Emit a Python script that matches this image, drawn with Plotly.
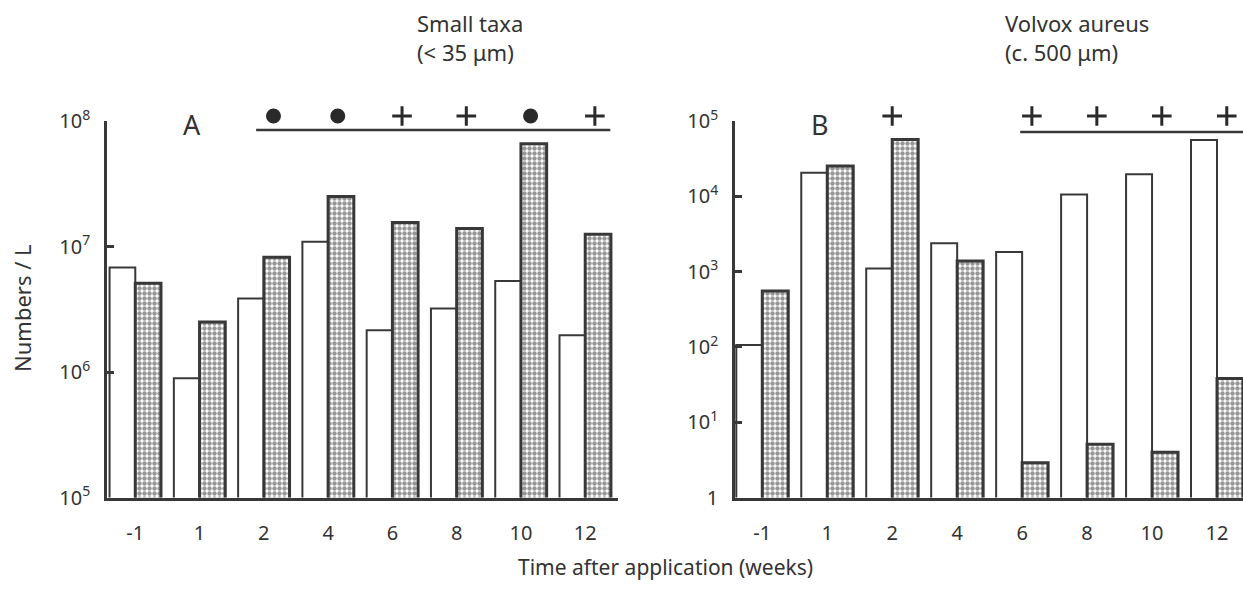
import plotly.graph_objects as go

# ---------------- data ----------------
weeks = ["-1", "1", "2", "4", "6", "8", "10", "12"]
small_open = [6.8e6, 8.9e5, 3.85e6, 1.09e7, 2.15e6, 3.2e6, 5.3e6, 1.96e6]
small_stippled = [5.1e6, 2.5e6, 8.2e6, 2.5e7, 1.55e7, 1.39e7, 6.6e7, 1.25e7]
volvox_open = [106, 2.06e4, 1.1e3, 2.38e3, 1.82e3, 1.06e4, 1.96e4, 5.6e4]
volvox_stippled = [552, 2.52e4, 5.7e4, 1.38e3, 2.9, 5.1, 4.0, 38]
sig_small = ["", "", "●", "●", "+", "+", "●", "+"]
sig_volvox = ["", "", "+", "", "+", "+", "+", "+"]
ytick_small_vals = [1e5, 1e6, 1e7, 1e8]
ytick_small_text = ["10<sup>5</sup>", "10<sup>6</sup>", "10<sup>7</sup>", "10<sup>8</sup>"]
ytick_volvox_vals = [1, 1e1, 1e2, 1e3, 1e4, 1e5]
ytick_volvox_text = ["1", "10<sup>1</sup>", "10<sup>2</sup>", "10<sup>3</sup>", "10<sup>4</sup>", "10<sup>5</sup>"]

# ---------------- style ----------------
W, H = 1243, 589
INK = "#383838"
TXT = "#333333"
FONT = "Noto Sans"
idx = list(range(len(weeks)))


def px_x(p):
    return p / W


def px_y(p):
    return 1 - p / H


domA = [px_x(107), px_x(618)]
domB = [px_x(735), 1.0]
domY = [px_y(497.5), px_y(121)]
rangeA = [-0.44, 7.51]
rangeB = [-0.42, 7.4]

fig = go.Figure()

open_marker = dict(color="white", line=dict(color=INK, width=2))
stip_marker = dict(color="white", line=dict(color=INK, width=3),
                   pattern=dict(shape=".", fgcolor="#2e2e2e", bgcolor="white",
                                size=5, solidity=0.62))

fig.add_trace(go.Bar(x=idx, y=small_open, xaxis="x", yaxis="y",
                     offsetgroup="a", marker=open_marker, showlegend=False))
fig.add_trace(go.Bar(x=idx, y=small_stippled, xaxis="x", yaxis="y",
                     offsetgroup="b", marker=stip_marker, showlegend=False))
fig.add_trace(go.Bar(x=idx, y=volvox_open, xaxis="x2", yaxis="y2",
                     offsetgroup="a", marker=open_marker, showlegend=False))
fig.add_trace(go.Bar(x=idx, y=volvox_stippled, xaxis="x2", yaxis="y2",
                     offsetgroup="b", marker=stip_marker, showlegend=False))

# significance symbols (on overlay axes spanning the full paper height)
sym_map = {"●": "circle", "+": "cross-thin"}
mark_y = px_y(116)
for sig, xa, ya in [(sig_small, "x3", "y3"), (sig_volvox, "x4", "y4")]:
    xs, syms = [], []
    for i, s in enumerate(sig):
        if s:
            xs.append(i + (0.0 if (xa == "x4" and i == 2) else 0.15))
            syms.append(sym_map[s])
    sizes = [12 if s == "circle" else 14 for s in syms]
    fig.add_trace(go.Scatter(
        x=xs, y=[mark_y] * len(xs), xaxis=xa, yaxis=ya, mode="markers",
        cliponaxis=False, showlegend=False, hoverinfo="skip",
        marker=dict(symbol=syms, size=sizes, color="#2a2a2a", opacity=1,
                    line=dict(color="#2a2a2a", width=3))))

axis_common = dict(showline=True, linecolor=INK, linewidth=2.5, showgrid=False,
                   zeroline=False, automargin=False)

xcommon = dict(axis_common, tickmode="array", tickvals=idx, ticktext=weeks,
               ticks="", ticklabelstandoff=16,
               tickfont=dict(family=FONT, size=20, color=TXT))
ycommon = dict(axis_common, type="log", ticks="inside", ticklen=7, tickwidth=2.5,
               tickcolor=INK, ticklabelstandoff=10,
               tickfont=dict(family=FONT, size=20, color=TXT))
hidden = dict(visible=False, automargin=False, showgrid=False, zeroline=False)

fig.update_layout(
    width=W, height=H, margin=dict(l=0, r=0, t=0, b=0, pad=0),
    paper_bgcolor="white", plot_bgcolor="rgba(0,0,0,0)",
    barmode="group", bargap=0.2, bargroupgap=0,
    font=dict(family=FONT, color=TXT),
    xaxis=dict(xcommon, domain=domA, range=rangeA, anchor="y"),
    yaxis=dict(ycommon, domain=domY, range=[5, 8], anchor="x",
               tickvals=ytick_small_vals, ticktext=ytick_small_text),
    xaxis2=dict(xcommon, domain=domB, range=rangeB, anchor="y2"),
    yaxis2=dict(ycommon, domain=domY, range=[0, 5], anchor="x2",
                tickvals=ytick_volvox_vals, ticktext=ytick_volvox_text),
    xaxis3=dict(hidden, domain=domA, range=rangeA, anchor="y3"),
    yaxis3=dict(hidden, domain=[0, 1], range=[0, 1], anchor="x3"),
    xaxis4=dict(hidden, domain=domB, range=rangeB, anchor="y4"),
    yaxis4=dict(hidden, domain=[0, 1], range=[0, 1], anchor="x4"),
)

# treatment period lines
fig.add_shape(type="line", xref="x", yref="paper", x0=1.88, x1=7.39,
              y0=px_y(130), y1=px_y(130), line=dict(color=INK, width=2.5))
fig.add_shape(type="line", xref="x2", yref="paper", x0=3.97, x1=7.4,
              y0=px_y(132), y1=px_y(132), line=dict(color=INK, width=2.5))

ann = [
    dict(text="Small taxa<br>(&lt; 35 μm)", x=px_x(415), y=px_y(6), xanchor="left",
         yanchor="top", align="left", font=dict(size=22)),
    dict(text="Volvox aureus<br>(c. 500 μm)", x=px_x(1003), y=px_y(6), xanchor="left",
         yanchor="top", align="left", font=dict(size=22)),
    dict(text="A", x=px_x(192), y=px_y(124), xanchor="center", yanchor="middle",
         font=dict(size=27)),
    dict(text="B", x=px_x(820), y=px_y(124), xanchor="center", yanchor="middle",
         font=dict(size=27)),
    dict(text="Numbers / L", x=px_x(22), y=px_y(308), xanchor="center",
         yanchor="middle", textangle=-90, font=dict(size=22)),
    dict(text="Time after application (weeks)", x=px_x(665), y=px_y(567),
         xanchor="center", yanchor="middle", font=dict(size=21)),
]
for a in ann:
    a.update(xref="paper", yref="paper", showarrow=False)
    a["font"] = dict(a["font"], family=FONT, color=TXT)
    fig.add_annotation(**a)

fig.write_html("out.html", config={"displayModeBar": False},
               post_script="document.body.style.margin='0';document.body.style.overflow='hidden';")
